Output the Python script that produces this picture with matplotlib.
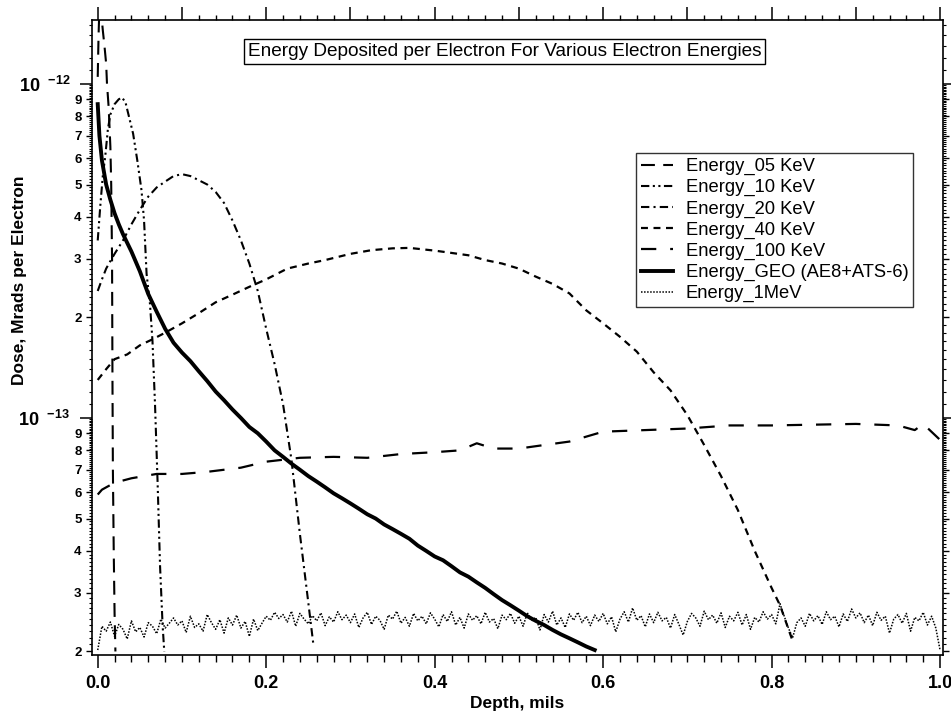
import numpy as np
import matplotlib
matplotlib.use('Agg')
import matplotlib.pyplot as plt
from matplotlib.ticker import (FixedLocator, FixedFormatter, MultipleLocator,
                               NullFormatter, NullLocator, FormatStrFormatter)

plt.rcParams['font.family'] = ['Liberation Sans', 'DejaVu Sans']
plt.rcParams['font.weight'] = 'bold'
plt.rcParams['axes.labelweight'] = 'bold'
plt.rcParams['mathtext.fontset'] = 'custom'
plt.rcParams['mathtext.rm'] = 'Liberation Sans'
plt.rcParams['mathtext.bf'] = 'Liberation Sans:bold'
plt.rcParams['lines.scale_dashes'] = False

# depth in mils, dose in Mrads per electron (units of 1e-13 unless noted)
x_05 = [0.0, 0.001, 0.002, 0.004, 0.006, 0.008, 0.010, 0.011, 0.013, 0.015,
        0.016, 0.017, 0.0175, 0.018, 0.019, 0.020, 0.021]
d_05 = [10.5, 14.0, 17.0, 16.5, 14.5, 13.0, 11.5, 10.0, 8.5, 6.5,
        5.0, 3.0, 1.3, 0.7, 0.4, 0.26, 0.2]

x_10 = [0.0, 0.003, 0.006, 0.009, 0.012, 0.015, 0.020, 0.025, 0.029, 0.033,
        0.037, 0.042, 0.047, 0.052, 0.055, 0.058, 0.062, 0.065, 0.068, 0.071,
        0.074, 0.077, 0.079]
d_10 = [3.4, 4.3, 5.3, 6.1, 7.3, 8.1, 8.7, 9.0, 9.1, 8.8,
        8.0, 7.1, 5.9, 4.8, 3.9, 2.7, 2.2, 1.7, 1.1, 0.65,
        0.36, 0.24, 0.20]

x_20 = [0.0, 0.005, 0.01, 0.015, 0.02, 0.03, 0.04, 0.05, 0.06, 0.07,
        0.08, 0.09, 0.10, 0.11, 0.12, 0.13, 0.14, 0.15, 0.16, 0.17,
        0.18, 0.19, 0.20, 0.21, 0.22, 0.23, 0.24, 0.25, 0.256]
d_20 = [2.4, 2.6, 2.8, 2.95, 3.1, 3.4, 3.8, 4.2, 4.6, 4.9,
        5.1, 5.3, 5.37, 5.3, 5.15, 5.0, 4.75, 4.4, 3.9, 3.4,
        2.9, 2.4, 1.85, 1.45, 1.1, 0.75, 0.45, 0.28, 0.21]

x_40 = [0.0, 0.01, 0.02, 0.035, 0.05, 0.065, 0.08, 0.10, 0.12, 0.14,
        0.16, 0.18, 0.20, 0.225, 0.25, 0.27, 0.30, 0.325, 0.35, 0.37,
        0.40, 0.42, 0.44, 0.46, 0.48, 0.50, 0.52, 0.54, 0.56, 0.58,
        0.60, 0.62, 0.64, 0.66, 0.68, 0.70, 0.72, 0.74, 0.76, 0.78,
        0.80, 0.81, 0.825]
d_40 = [1.3, 1.4, 1.5, 1.55, 1.65, 1.72, 1.8, 1.92, 2.06, 2.22,
        2.34, 2.47, 2.6, 2.8, 2.9, 2.97, 3.1, 3.18, 3.22, 3.23,
        3.17, 3.12, 3.07, 2.97, 2.9, 2.8, 2.65, 2.52, 2.36, 2.1,
        1.92, 1.75, 1.58, 1.37, 1.21, 1.02, 0.83, 0.67, 0.53, 0.40,
        0.31, 0.275, 0.215]

x_100 = [0.0, 0.005, 0.01, 0.02, 0.04, 0.07, 0.10, 0.13, 0.17, 0.20,
         0.24, 0.28, 0.32, 0.36, 0.40, 0.43, 0.45, 0.47, 0.50, 0.53,
         0.56, 0.60, 0.65, 0.70, 0.75, 0.80, 0.85, 0.90, 0.95, 0.97,
         0.98, 1.0]
d_100 = [0.59, 0.61, 0.62, 0.64, 0.66, 0.68, 0.68, 0.69, 0.71, 0.74,
         0.76, 0.765, 0.76, 0.78, 0.79, 0.80, 0.84, 0.81, 0.81, 0.83,
         0.85, 0.91, 0.92, 0.93, 0.95, 0.95, 0.955, 0.96, 0.95, 0.92,
         0.96, 0.86]

x_geo = [0.0, 0.002, 0.005, 0.01, 0.015, 0.02, 0.025, 0.03, 0.04, 0.05,
         0.06, 0.07, 0.08, 0.09, 0.10, 0.11, 0.12, 0.13, 0.14, 0.15,
         0.16, 0.17, 0.18, 0.19, 0.20, 0.21, 0.22, 0.23, 0.24, 0.25,
         0.26, 0.27, 0.28, 0.29, 0.30, 0.31, 0.32, 0.33, 0.34, 0.35,
         0.36, 0.37, 0.38, 0.39, 0.40, 0.41, 0.42, 0.43, 0.44, 0.45,
         0.46, 0.47, 0.48, 0.49, 0.50, 0.51, 0.52, 0.53, 0.54, 0.55,
         0.56, 0.57, 0.58, 0.59]
d_geo = [8.7, 7.0, 5.9, 5.0, 4.5, 4.1, 3.8, 3.55, 3.15, 2.75,
         2.35, 2.08, 1.85, 1.68, 1.57, 1.48, 1.38, 1.29, 1.20, 1.13,
         1.06, 1.00, 0.94, 0.90, 0.85, 0.80, 0.765, 0.73, 0.70, 0.67,
         0.645, 0.62, 0.595, 0.575, 0.555, 0.535, 0.515, 0.50, 0.48, 0.465,
         0.45, 0.435, 0.415, 0.40, 0.385, 0.375, 0.36, 0.345, 0.335, 0.322,
         0.31, 0.297, 0.285, 0.275, 0.265, 0.255, 0.247, 0.24, 0.232, 0.225,
         0.219, 0.213, 0.207, 0.202]

# 1 MeV run, every 0.005 mils, units of 1e-14
d_1mev = [2.02, 2.38, 2.30, 2.45, 2.22, 2.41, 2.33, 2.18, 2.47, 2.29,
          2.36, 2.21, 2.44, 2.38, 2.26, 2.50, 2.35, 2.43, 2.52, 2.40,
          2.47, 2.28, 2.55, 2.36, 2.42, 2.30, 2.58, 2.44, 2.33, 2.49,
          2.27, 2.52, 2.40, 2.57, 2.35, 2.46, 2.22, 2.50, 2.31, 2.43,
          2.55, 2.48, 2.62, 2.51, 2.58, 2.45, 2.64, 2.38, 2.60, 2.50,
          2.42, 2.56, 2.47, 2.61, 2.39, 2.54, 2.45, 2.63, 2.49, 2.57,
          2.44, 2.59, 2.36, 2.52, 2.62, 2.41, 2.55, 2.48, 2.33, 2.57,
          2.50, 2.64, 2.43, 2.53, 2.38, 2.60, 2.47, 2.55, 2.42, 2.61,
          2.50, 2.37, 2.58, 2.46, 2.63, 2.40, 2.53, 2.35, 2.59, 2.48,
          2.56, 2.42, 2.62, 2.45, 2.51, 2.34, 2.57, 2.49, 2.60, 2.43,
          2.55, 2.38, 2.61, 2.47, 2.53, 2.32, 2.58, 2.45, 2.64, 2.40,
          2.52, 2.36, 2.59, 2.48, 2.62, 2.44, 2.55, 2.39, 2.57, 2.46,
          2.60, 2.42, 2.54, 2.29, 2.50, 2.63, 2.45, 2.70, 2.48, 2.56,
          2.37, 2.59, 2.44, 2.62, 2.47, 2.53, 2.35, 2.58, 2.41, 2.24,
          2.46, 2.60, 2.52, 2.38, 2.64, 2.49, 2.57, 2.43, 2.61, 2.36,
          2.55, 2.47, 2.62, 2.40, 2.58, 2.33, 2.53, 2.45, 2.63, 2.50,
          2.58, 2.42, 2.78, 2.55, 2.35, 2.20, 2.44, 2.52, 2.38, 2.60,
          2.47, 2.56, 2.41, 2.63, 2.49, 2.55, 2.37, 2.59, 2.46, 2.68,
          2.52, 2.61, 2.44, 2.57, 2.39, 2.62, 2.48, 2.55, 2.27, 2.50,
          2.58, 2.43, 2.60, 2.30, 2.53, 2.47, 2.62, 2.40, 2.55, 2.35,
          2.02]
x_1mev = np.linspace(0.0, 1.0, len(d_1mev))

labels = ['Energy_05 KeV', 'Energy_10 KeV', 'Energy_20 KeV', 'Energy_40 KeV',
          'Energy_100 KeV', 'Energy_GEO (AE8+ATS-6)', 'Energy_1MeV']

y_major = [1e-13, 1e-12]
y_major_labels = [r'$\mathbf{10}^{\ \ \mathbf{-13}}$', r'$\mathbf{10}^{\ \ \mathbf{-12}}$']
y_minor_digits = [2, 3, 4, 5, 6, 7, 8, 9]

fig = plt.figure(figsize=(9.51, 7.17), dpi=100)
ax = fig.add_axes([92/951, 62/717, 851/951, 635/717])

e13 = 1e-13
ax.plot(x_05, np.array(d_05)*e13, color='k', lw=1.5, dashes=(10, 6), label=labels[0])
ax.plot(x_10, np.array(d_10)*e13, color='k', lw=1.5, dashes=(6, 2.5, 1.5, 2.5, 1.5, 2.5), label=labels[1])
ax.plot(x_20, np.array(d_20)*e13, color='k', lw=1.5, dashes=(6, 3, 1.5, 3), label=labels[2])
ax.plot(x_40, np.array(d_40)*e13, color='k', lw=1.6, dashes=(5, 4), label=labels[3])
ax.plot(x_100, np.array(d_100)*e13, color='k', lw=1.6, dashes=(11, 10), label=labels[4])
ax.plot(x_geo, np.array(d_geo)*e13, color='k', lw=2.8, label=labels[5])
ax.plot(x_1mev, np.array(d_1mev)*1e-14, color='k', lw=1.1, dashes=(1.1, 1.1), label=labels[6])

ax.set_yscale('log')
ax.set_xlim(-0.0068, 1.0035)
ax.set_ylim(1.952e-14, 1.554e-12)

# y ticks: decades, numbered sub-decades, and fine marks in between
y_minor = [m*1e-14 for m in y_minor_digits] + [m*1e-13 for m in y_minor_digits]
ax.yaxis.set_major_locator(FixedLocator(y_major))
ax.yaxis.set_major_formatter(FixedFormatter(y_major_labels))
ax.yaxis.set_minor_locator(FixedLocator(y_minor))
ax.yaxis.set_minor_formatter(FixedFormatter([str(m) for m in y_minor_digits]*2))
ax.tick_params(axis='y', which='major', length=8.6, width=1.1, pad=7, labelsize=13, right=True)
ax.tick_params(axis='y', which='minor', length=4.5, width=1.0, pad=3, labelsize=9.5, right=True)

mant = np.round(np.arange(1.1, 10.0, 0.1), 1)
mant = mant[np.mod(mant, 1) != 0]
fine = np.concatenate([mant*1e-14, mant*1e-13, mant*1e-12])
for side in ('left', 'right'):
    sec = ax.secondary_yaxis(side)
    sec.yaxis.set_major_locator(FixedLocator(fine))
    sec.yaxis.set_minor_locator(NullLocator())
    sec.yaxis.set_major_formatter(NullFormatter())
    sec.tick_params(length=2.2, width=0.8)
    for sp in sec.spines.values():
        sp.set_visible(False)

# x ticks
ax.xaxis.set_major_locator(MultipleLocator(0.2))
ax.xaxis.set_minor_locator(MultipleLocator(0.02))
ax.xaxis.set_major_formatter(FormatStrFormatter('%.1f'))
ax.tick_params(axis='x', which='major', length=9.5, width=1.1, pad=5, labelsize=13)
ax.tick_params(axis='x', which='minor', length=5, width=1.0)

top = ax.secondary_xaxis('top')
top.xaxis.set_major_locator(MultipleLocator(0.1))
top.xaxis.set_minor_locator(MultipleLocator(0.02))
top.xaxis.set_major_formatter(NullFormatter())
top.tick_params(which='major', length=9.5, width=1.1)
top.tick_params(which='minor', length=3.6, width=1.0)
for sp in top.spines.values():
    sp.set_visible(False)

for sp in ax.spines.values():
    sp.set_linewidth(1.2)

ax.set_xlabel('Depth, mils', fontsize=12.5, fontweight='bold', labelpad=3)
ax.set_ylabel('Dose, Mrads per Electron', fontsize=12.5, fontweight='bold')
ax.yaxis.set_label_coords(-0.0765, 0.59)

ax.text(0.485, 0.95, 'Energy Deposited per Electron For Various Electron Energies',
        transform=ax.transAxes, ha='center', va='center', fontsize=13.7, fontweight='normal',
        bbox=dict(boxstyle='square,pad=0.2', fc='white', ec='black', lw=1.0))

leg = ax.legend(loc='upper right', bbox_to_anchor=(0.965, 0.79), borderaxespad=0,
                prop={'size': 13.2, 'weight': 'normal'}, frameon=True, fancybox=False,
                handlelength=1.75, handletextpad=0.7, labelspacing=0.22, borderpad=0.25)
leg.get_frame().set_edgecolor('black')
leg.get_frame().set_linewidth(1.0)

fig.savefig('out.png', dpi=100)
